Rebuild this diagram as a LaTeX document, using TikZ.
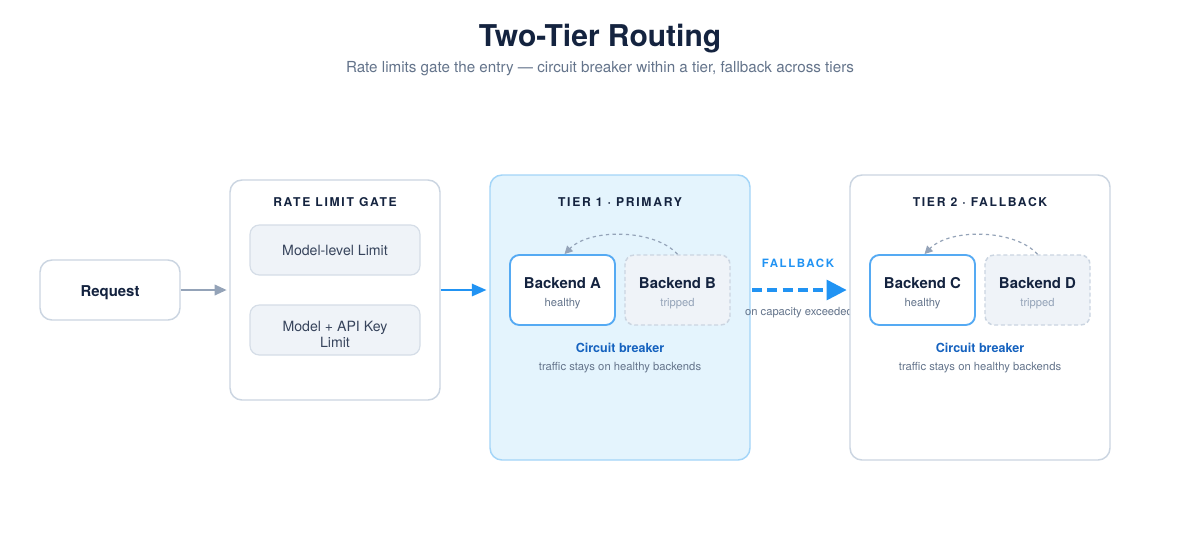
\documentclass[tikz,border=0pt]{standalone}
\usepackage{fontspec}
\setmainfont{TeX Gyre Heros}
\newfontfamily\spaced[LetterSpace=14]{TeX Gyre Heros}
\usetikzlibrary{arrows.meta}
\definecolor{navy}{HTML}{14233F}
\definecolor{slate}{HTML}{64748B}
\definecolor{lslate}{HTML}{94A3B8}
\definecolor{bord}{HTML}{CBD5E1}
\definecolor{lfill}{HTML}{EFF3F8}
\definecolor{tfill}{HTML}{E4F4FD}
\definecolor{tbord}{HTML}{A3D5F8}
\definecolor{bblue}{HTML}{55AAF3}
\definecolor{arrblue}{HTML}{2193F3}
\definecolor{dblue}{HTML}{1562BF}
\tikzset{
  box/.style 2 args={draw=bord, rounded corners=9pt, minimum width=#1*0.75pt, minimum height=#2*0.75pt, inner sep=0pt, line width=1.1pt},
  inner/.style 2 args={draw=bord!80, fill=lfill, rounded corners=7pt, minimum width=#1*0.75pt, minimum height=#2*0.75pt, inner sep=0pt, line width=0.9pt},
  healthybox/.style={draw=bblue, fill=white, rounded corners=7pt, minimum width=105*0.75pt, minimum height=70*0.75pt, inner sep=0pt, line width=1.4pt},
  trippedbox/.style={draw=bord, fill=lfill, dashed, dash pattern=on 3pt off 2pt, rounded corners=7pt, minimum width=105*0.75pt, minimum height=70*0.75pt, inner sep=0pt, line width=1.1pt},
  txt/.style={anchor=base, inner sep=0pt},
  hdr/.style={txt, text=navy, font=\spaced\bfseries\fontsize{9.1}{11}\selectfont},
  bename/.style={txt, text=navy, font=\bfseries\fontsize{11.2}{13}\selectfont},
  healthytxt/.style={txt, text=slate, font=\fontsize{8.4}{10}\selectfont},
  trippedtxt/.style={txt, text=lslate, font=\fontsize{8.4}{10}\selectfont},
  cbtxt/.style={txt, text=dblue, font=\bfseries\fontsize{9.4}{11}\selectfont},
  cbsub/.style={txt, text=slate, font=\fontsize{8.45}{10}\selectfont},
  limtxt/.style={txt, text=navy!85, font=\fontsize{10.6}{12}\selectfont},
  cbarrow/.style={draw=lslate, line width=0.9pt, dash pattern=on 2.5pt off 2.5pt, -{Triangle[length=6pt,width=6pt]}},
}
\begin{document}
\begin{tikzpicture}[x=0.75pt,y=-0.75pt]
\path[fill=white,use as bounding box] (0,0) rectangle (1200,540);

% title
\node[txt, text=navy, font=\bfseries\fontsize{22.5}{26}\selectfont] (title) at (600,46) {Two-Tier Routing};
\node[txt, text=slate, font=\fontsize{11.4}{13}\selectfont] (subtitle) at (600,72) {Rate limits gate the entry — circuit breaker within a tier, fallback across tiers};

% request
\node[box={140}{60}, fill=white] (req) at (110,290) {};
\node[txt, text=navy, font=\bfseries\fontsize{11.2}{13}\selectfont] (reqt) at (110,296) {Request};

% rate limit gate
\node[box={210}{220}, fill=white] (gate) at (335,290) {};
\node[hdr] (gateh) at (335,206) {RATE LIMIT GATE};
\node[inner={170}{50}] (lim1) at (335,250) {};
\node[limtxt] (lim1t) at (335,255) {Model-level Limit};
\node[inner={170}{50}] (lim2) at (335,330) {};
\node[limtxt] (lim2t) at (335,331) {Model + API Key};
\node[limtxt] (lim2u) at (335,347) {Limit};

% tier 1
\node[box={260}{285}, fill=tfill, draw=tbord] (tier1) at (620,317.5) {};
\node[hdr] (t1h) at (620,206) {TIER 1 · PRIMARY};
\node[healthybox] (ba) at (562.5,290) {};
\node[bename] (bat) at (562.5,288) {Backend A};
\node[healthytxt] (bas) at (562.5,306) {healthy};
\node[trippedbox] (bb) at (677.5,290) {};
\node[bename] (bbt) at (677.5,288) {Backend B};
\node[trippedtxt] (bbs) at (677.5,306) {tripped};
\draw[cbarrow] (bb.north) .. controls (655,229) and (590,228) .. ([xshift=1.5pt]ba.north);
\node[cbtxt] (cb1) at (620,352) {Circuit breaker};
\node[cbsub] (cb1s) at (620,370) {traffic stays on healthy backends};

% fallback labels
\node[txt, text=arrblue, font=\spaced\bfseries\fontsize{8.6}{11}\selectfont] (fbl) at (798,267) {FALLBACK};
\node[txt, text=slate, font=\fontsize{8.4}{10}\selectfont] (fbs) at (799,315) {on capacity exceeded};

% tier 2
\node[box={260}{285}, fill=white] (tier2) at (980,317.5) {};
\node[hdr] (t2h) at (980,206) {TIER 2 · FALLBACK};
\node[healthybox] (bc) at (922.5,290) {};
\node[bename] (bct) at (922.5,288) {Backend C};
\node[healthytxt] (bcs) at (922.5,306) {healthy};
\node[trippedbox] (bd) at (1037.5,290) {};
\node[bename] (bdt) at (1037.5,288) {Backend D};
\node[trippedtxt] (bds) at (1037.5,306) {tripped};
\draw[cbarrow] (bd.north) .. controls (1015,229) and (950,228) .. ([xshift=1.5pt]bc.north);
\node[cbtxt] (cb2) at (980,352) {Circuit breaker};
\node[cbsub] (cb2s) at (980,370) {traffic stays on healthy backends};

% connectors
\draw[draw=lslate, line width=1.2pt, -{Triangle[length=9pt,width=8pt]}] (req.east) -- ([xshift=-2pt]gate.west);
\draw[draw=arrblue, line width=2.1pt, -{Triangle[length=11pt,width=9pt]}] (gate.east) -- ([xshift=-2pt]tier1.west |- gate.east);
\draw[draw=arrblue, line width=2.4pt, dash pattern=on 7.5pt off 4pt, -{Triangle[length=15pt,width=15pt]}] ([xshift=1pt]tier1.east |- gate.east) -- ([xshift=-2pt]tier2.west |- gate.east);
\end{tikzpicture}
\end{document}
